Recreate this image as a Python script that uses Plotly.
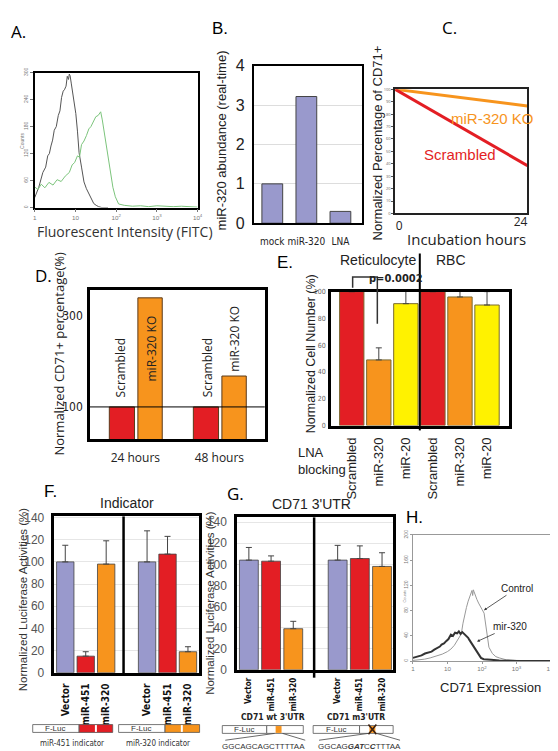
import numpy as np
import plotly.graph_objects as go

W, H = 558, 751

ARIAL = "Liberation Sans, Arial, sans-serif"
NARROW = "Liberation Sans Narrow, DejaVu Sans Condensed, Liberation Sans, sans-serif"
MYRIAD = "Open Sans, Noto Sans, sans-serif"

RED = "#E31E24"
ORANGE = "#F7941D"
YELLOW = "#FFF200"
LAV = "#9999CC"

# ---------------- DATA ----------------
# A: flow cytometry histogram (log10 FITC intensity, counts)
a_gray_log = [0.00, 0.10, 0.20, 0.27, 0.32, 0.36, 0.40, 0.44, 0.48, 0.53, 0.58, 0.62, 0.66, 0.70, 0.73,
              0.77, 0.80, 0.83, 0.85, 0.87, 0.90, 0.93, 0.97, 1.01, 1.05, 1.09, 1.15, 1.21, 1.27, 1.33,
              1.39, 1.45, 1.51, 1.57, 1.65, 1.80]
a_gray_cnt = [22, 45, 78, 90, 115, 120, 137, 150, 172, 180, 205, 215, 245, 259, 262,
              270, 292, 285, 297, 293, 275, 259, 235, 209, 170, 122, 90, 57, 42, 30,
              18, 9, 5, 2, 0, 0]
a_green_log = [0.00, 0.08, 0.16, 0.25, 0.35, 0.45, 0.55, 0.65, 0.75, 0.85, 0.92, 0.98, 1.05, 1.10,
               1.15, 1.21, 1.27, 1.33, 1.38, 1.44, 1.50, 1.56, 1.62, 1.66, 1.70, 1.74, 1.78, 1.82,
               1.86, 1.92, 1.98, 2.06, 2.20, 2.40, 2.60, 2.80, 3.00, 3.20, 3.40, 3.60, 3.80, 4.00]
a_green_cnt = [46, 40, 52, 44, 56, 50, 62, 58, 70, 78, 95, 100, 115, 112,
               140, 148, 160, 175, 180, 192, 202, 205, 213, 195, 172, 150, 122, 100,
               78, 45, 24, 8, 5, 3, 4, 2, 4, 3, 2, 3, 2, 1]

# B: miR-320 abundance (real-time)
b_cats = ["mock", "miR-320", "LNA"]
b_vals = [1.0, 3.22, 0.30]

# C: normalized percentage of CD71+ vs incubation hours
c_hours = [0, 24]
c_ko = [100, 86.5]
c_scr = [100, 38.5]

# D: normalized CD71+ percentage
d_cats = ["24 hours", "48 hours"]
d_scr = [100, 100]
d_ko = [340, 168]

# E: normalized cell number (%)
e_labels = ["Scrambled", "miR-320", "miR-20", "Scrambled", "miR-320", "miR-20"]
e_vals = [100, 49, 91, 100, 96, 90]
e_err = [0, 9, 14, 0, 13, 10]

# F: indicator luciferase activities (%)
f_labels = ["Vector", "miR-451", "miR-320", "Vector", "miR-451", "miR-320"]
f_vals = [100, 15, 98, 100, 107, 19]
f_err = [15, 4, 21, 28, 16, 4.5]

# G: CD71 3'UTR luciferase activities (%)
g_labels = ["Vector", "miR-451", "miR-320", "Vector", "miR-451", "miR-320"]
g_vals = [104, 103, 39, 104, 105.5, 98]
g_err = [12, 5, 7, 14, 12, 13]

# H: CD71 expression histogram (log10 intensity, counts)
h_ctrl_log = [0.0, 0.2, 0.34, 0.5, 0.7, 0.85, 1.0, 1.1, 1.2, 1.3, 1.4, 1.45, 1.5, 1.55, 1.6, 1.64,
              1.68, 1.71, 1.73, 1.75, 1.77, 1.8, 1.85, 1.9, 1.95, 2.0, 2.06, 2.12, 2.2, 2.3, 2.4,
              2.5, 2.7, 3.0, 3.5, 4.0]
h_ctrl_cnt = [1, 2, 3, 5, 8, 11, 15, 19, 25, 33, 43, 60, 75, 85, 95, 102,
              108, 112, 104, 113, 110, 104, 98, 92, 86, 82, 76, 50, 22, 12, 7,
              5, 2, 1, 1, 0]
h_mir_log = [0.0, 0.06, 0.15, 0.25, 0.35, 0.45, 0.54, 0.62, 0.70, 0.78, 0.83, 0.9, 0.97, 1.03,
             1.1, 1.16, 1.22, 1.28, 1.33, 1.38, 1.43, 1.49, 1.55, 1.6, 1.63, 1.7, 1.77, 1.85,
             1.92, 1.97, 2.05, 2.15, 2.26, 2.5, 3.0, 4.0]
h_mir_cnt = [5, 6, 8, 9, 12, 13, 15, 18, 20, 23, 26, 28, 32, 35,
             42, 40, 45, 44, 47, 43, 46, 43, 40, 37, 34, 28, 20, 14,
             9, 5, 3, 2, 2, 1, 0, 0]


# ---------------- helpers ----------------
def xd(p0, p1):
    return [p0 / W, p1 / W]


def yd(top, bot):
    return [1 - bot / H, 1 - top / H]


def PX(x):
    return x / W


def PY(y):
    return 1 - y / H


annotations = []
shapes = []


def T(text, x, y, size=12, family=ARIAL, color="black", angle=0, xanchor="center", yanchor="middle", **kw):
    annotations.append(dict(text=text, x=PX(x), y=PY(y), xref="paper", yref="paper", showarrow=False,
                            font=dict(size=size, family=family, color=color), textangle=angle,
                            xanchor=xanchor, yanchor=yanchor, **kw))


def rect(x0, y0, x1, y1, fill="white", lc="#555", lw=0.8):
    shapes.append(dict(type="rect", xref="paper", yref="paper", x0=PX(x0), x1=PX(x1), y0=PY(y1), y1=PY(y0),
                       fillcolor=fill, line=dict(color=lc, width=lw)))


def line(x0, y0, x1, y1, color="black", width=1):
    shapes.append(dict(type="line", xref="paper", yref="paper", x0=PX(x0), x1=PX(x1), y0=PY(y0), y1=PY(y1),
                       line=dict(color=color, width=width)))


def box_axis(domain, anchor, lw=2, lc="black", **kw):
    d = dict(domain=domain, anchor=anchor, showline=True, mirror=True, linewidth=lw, linecolor=lc,
             showgrid=False, zeroline=False, ticks="")
    d.update(kw)
    return d


fig = go.Figure()

# A
fig.add_trace(go.Scatter(x=np.power(10.0, a_gray_log), y=a_gray_cnt, mode="lines",
                         line=dict(color="#555555", width=1), xaxis="x", yaxis="y"))
fig.add_trace(go.Scatter(x=np.power(10.0, a_green_log), y=a_green_cnt, mode="lines",
                         line=dict(color="#7CC47C", width=1), xaxis="x", yaxis="y"))

# B
fig.add_trace(go.Bar(x=b_cats, y=b_vals, width=0.61, marker=dict(color=LAV, line=dict(color="#444", width=1)),
                     xaxis="x2", yaxis="y2"))

# C (second line on an overlaid twin axis that carries the "24" label)
fig.add_trace(go.Scatter(x=c_hours, y=c_ko, mode="lines", line=dict(color=ORANGE, width=3), xaxis="x3", yaxis="y3"))
fig.add_trace(go.Scatter(x=c_hours, y=c_scr, mode="lines", line=dict(color=RED, width=3), xaxis="x9", yaxis="y3"))

# D
fig.add_trace(go.Bar(x=d_cats, y=d_scr, width=0.3, offset=-0.31,
                     marker=dict(color=RED, line=dict(color="#5a3a1a", width=1)), xaxis="x4", yaxis="y4"))
fig.add_trace(go.Bar(x=d_cats, y=d_ko, width=0.29, offset=0.03,
                     marker=dict(color=ORANGE, line=dict(color="#5a3a1a", width=1)), xaxis="x4", yaxis="y4"))

# E
e_pos = list(range(len(e_vals)))
fig.add_trace(go.Bar(x=e_pos, y=e_vals, width=0.9,
                     marker=dict(color=[RED, ORANGE, YELLOW] * 2, line=dict(color="#7a6a30", width=1)),
                     error_y=dict(type="data", array=e_err, arrayminus=[0] * 6, symmetric=False,
                                  color="#444", thickness=1, width=3),
                     cliponaxis=False, xaxis="x5", yaxis="y5"))

# F
f_pos = [i + i // 3 for i in range(6)]
fig.add_trace(go.Bar(x=f_pos, y=f_vals, width=0.85,
                     marker=dict(color=[LAV, RED, ORANGE] * 2, line=dict(color="#444", width=0.8)),
                     error_y=dict(type="data", array=f_err, arrayminus=[0] * 6, symmetric=False,
                                  color="#444", thickness=1, width=3),
                     cliponaxis=False, xaxis="x6", yaxis="y6"))

# G
g_pos = [i + i // 3 for i in range(6)]
fig.add_trace(go.Bar(x=g_pos, y=g_vals, width=0.85,
                     marker=dict(color=[LAV, RED, ORANGE] * 2, line=dict(color="#444", width=0.8)),
                     error_y=dict(type="data", array=g_err, arrayminus=[0] * 6, symmetric=False,
                                  color="#444", thickness=1, width=3),
                     cliponaxis=False, xaxis="x7", yaxis="y7"))

# H
fig.add_trace(go.Scatter(x=np.power(10.0, h_ctrl_log), y=h_ctrl_cnt, mode="lines",
                         line=dict(color="#999999", width=1), xaxis="x8", yaxis="y8"))
fig.add_trace(go.Scatter(x=np.power(10.0, h_mir_log), y=h_mir_cnt, mode="lines",
                         line=dict(color="#333333", width=2), xaxis="x8", yaxis="y8"))

tiny = dict(size=5, family=ARIAL, color="#777")

layout = dict(
    width=W, height=H, autosize=False, margin=dict(l=0, r=0, t=0, b=0),
    paper_bgcolor="white", plot_bgcolor="white", showlegend=False, barmode="overlay",
    # A
    xaxis=box_axis(xd(25, 190), "y", lw=1.5, type="log", range=[0, 4], dtick=1, exponentformat="power",
                   ticks="outside", ticklen=3, tickcolor="#777", tickfont=tiny),
    yaxis=box_axis(yd(58, 196), "x", lw=1.5, range=[0, 300], dtick=60, tickangle=-90,
                   ticks="outside", ticklen=3, tickcolor="#777", tickfont=tiny),
    # B
    xaxis2=box_axis(xd(247, 356), "y2", lw=2, range=[-0.54, 2.62], tickangle=0,
                    tickfont=dict(size=10, family=NARROW, color="#222"), ticklabelstandoff=8),
    yaxis2=box_axis(yd(51, 212), "x2", lw=2, range=[0, 4], dtick=1, showgrid=True, gridcolor="#dddddd",
                    tickfont=dict(size=16, family=ARIAL, color="#222"), ticklabelstandoff=4),
    # C
    xaxis3=box_axis(xd(390, 524), "y3", lw=1.5, lc="#222", range=[0, 24], tickvals=[0],
                    ticklabelposition="outside right",
                    tickfont=dict(size=12, family=MYRIAD, color="#222")),
    xaxis9=dict(overlaying="x3", anchor="y3", range=[0, 24], tickvals=[24], ticklabelposition="outside left",
                showline=False, showgrid=False, zeroline=False, ticks="",
                tickfont=dict(size=12, family=MYRIAD, color="#222")),
    yaxis3=box_axis(yd(75, 202), "x3", lw=1.5, lc="#222", range=[0, 100], dtick=10,
                    ticks="outside", ticklen=2, tickcolor="#555", tickfont=dict(size=4, color="#666")),
    # D
    xaxis4=box_axis(xd(81, 258), "y4", lw=2.5, range=[-0.54, 1.54],
                    tickfont=dict(size=12, family=MYRIAD, color="#222"), ticklabelstandoff=6),
    yaxis4=box_axis(yd(280, 433), "x4", lw=2.5, range=[29, 358], tickvals=[100, 300],
                    tickfont=dict(size=12, family=NARROW, color="#222"), ticklabelstandoff=2),
    # E
    xaxis5=box_axis(xd(325, 505), "y5", lw=2.5, range=[-0.77, 5.8], tickvals=e_pos, ticktext=e_labels,
                    tickangle=-90, tickfont=dict(size=13, family=ARIAL, color="#222"), ticklabelstandoff=4),
    yaxis5=box_axis(yd(282, 419), "x5", lw=2.5, range=[0, 100], dtick=20,
                    tickfont=dict(size=7, family=NARROW, color="#666"), ticklabelstandoff=1),
    # F
    xaxis6=box_axis(xd(45, 191), "y6", lw=2.5, range=[-0.53, 6.52], tickvals=f_pos,
                    ticktext=["<b>%s</b>" % s for s in f_labels], tickangle=-90,
                    tickfont=dict(size=10, family=NARROW, color="#111"), ticklabelstandoff=4),
    yaxis6=box_axis(yd(512, 672), "x6", lw=2.5, range=[0, 141], dtick=20, showgrid=True, gridcolor="#e6e6e6",
                    tickfont=dict(size=12, family=ARIAL, color="#555"), ticklabelstandoff=5),
    # G
    xaxis7=box_axis(xd(230, 388), "y7", lw=2.5, range=[-0.53, 6.5], tickvals=g_pos,
                    ticktext=["<b>%s</b>" % s for s in g_labels], tickangle=-90,
                    tickfont=dict(size=8, family=NARROW, color="#111"), ticklabelstandoff=2),
    yaxis7=box_axis(yd(513, 669), "x7", lw=2.5, range=[0, 144.5], dtick=20, showgrid=True, gridcolor="#e6e6e6",
                    tickfont=dict(size=12, family=ARIAL, color="#555"), ticklabelstandoff=5),
    # H
    xaxis8=box_axis(xd(408, 548), "y8", lw=1, lc="#999", type="log", range=[0, 4], dtick=1,
                    exponentformat="power", ticks="outside", ticklen=2, tickcolor="#999", tickfont=tiny),
    yaxis8=box_axis(yd(531, 660), "x8", lw=1, lc="#999", range=[0, 200], dtick=40, tickangle=-90,
                    ticks="outside", ticklen=2, tickcolor="#999", tickfont=tiny),
)

# ---------------- shapes ----------------
shapes.append(dict(type="line", xref="x4 domain", yref="y4", x0=0, x1=1, y0=100, y1=100,
                   line=dict(color="black", width=1)))
line(415, 243, 415, 424, width=2)
shapes.append(dict(type="path", xref="paper", yref="paper",
                   path="M %f %f L %f %f L %f %f L %f %f" % (PX(347), PY(278), PX(347), PY(267),
                                                             PX(372), PY(267), PX(372), PY(315)),
                   line=dict(color="#333", width=1.5)))
line(115, 512, 115, 673, width=2.5)
line(308, 513, 308, 677, width=2.5)

# F constructs
rect(23, 725, 70, 733)
rect(70, 725, 104, 733, fill=RED)
line(87, 725.5, 87, 732.5, color="white", width=2)
rect(110, 725, 157, 733)
rect(157, 725, 192, 733, fill=ORANGE)
line(174, 725.5, 174, 732.5, color="white", width=2)

# G constructs
rect(215, 726, 260, 734)
rect(260, 726, 297, 734)
rect(269, 726.5, 275, 733.5, fill=ORANGE, lc=ORANGE, lw=0)
line(268, 734, 218, 741, color="#444", width=0.8)
line(276, 734, 299, 741, color="#444", width=0.8)
rect(307, 726, 354, 734)
rect(354, 726, 388, 734)
rect(364, 726.5, 370, 733.5, fill=ORANGE, lc=ORANGE, lw=0)
line(363, 725, 371, 735, color="#3a2010", width=1.6)
line(371, 725, 363, 735, color="#3a2010", width=1.6)
line(363, 734, 313, 741, color="#444", width=0.8)
line(371, 734, 395, 741, color="#444", width=0.8)

# ---------------- text ----------------
T("A.", 9, 16, 17, MYRIAD)
T("B.", 213, 13, 17, ARIAL)
T("C.", 445, 12, 17, MYRIAD)
T("D.", 34, 265, 17, MYRIAD)
T("E.", 278, 252, 17, ARIAL)
T("F.", 41, 487, 17, ARIAL)
T("G.", 228, 489, 17, MYRIAD)
T("H.", 410, 513, 17, ARIAL)

T("Fluorescent Intensity (FITC)", 116, 221, 14, MYRIAD, "#333")
T("Counts", 12, 128, 5, ARIAL, "#777", angle=-90)
T("miR-320 abundance (real-time)", 214, 127, 13, ARIAL, "#222", angle=-90)
T("Normalized Percentage of CD71+", 372, 130, 13, ARIAL, "#222", angle=-90)
T("Incubation hours", 462, 228, 15, MYRIAD, "#222")
T("miR-320 KO", 489, 105, 15, ARIAL, ORANGE)
T("Scrambled", 456, 142, 15, ARIAL, RED)
T("Normalized CD71+ percentage(%)", 50, 345, 13, MYRIAD, "#222", angle=-90)
T("Scrambled", 112, 360, 12, MYRIAD, "#222", angle=-90)
T("miR-320 KO", 143, 340, 12, MYRIAD, "#222", angle=-90)
T("Scrambled", 200, 360, 12, MYRIAD, "#222", angle=-90)
T("miR-320 KO", 227, 330, 12, MYRIAD, "#222", angle=-90)
T("Reticulocyte", 373, 250, 14, ARIAL, "#222")
T("RBC", 447, 250, 14, ARIAL, "#222")
T("<b>p=0.0002</b>", 391, 269, 11, NARROW, "#222")
T("LNA<br>blocking", 290, 455, 13, ARIAL, "#222", xanchor="left", align="left")
T("Normalized Cell Number (%)", 305, 346, 12.5, ARIAL, "#222", angle=-90)
T("Indicator", 118, 498, 14, ARIAL, "#222")
T("Normalized Luciferase Activities (%)", 14, 597, 11.5, ARIAL, "#333", angle=-90)
T("F-Luc", 46, 729, 8, ARIAL, "#333")
T("F-Luc", 133, 729, 8, ARIAL, "#333")
T("miR-451 indicator", 63, 744, 8, NARROW, "#333")
T("miR-320 indicator", 150, 744, 8, NARROW, "#333")
T("CD71 3'UTR", 305, 499, 14, ARIAL, "#222")
T("Normalized Luciferase Activities (%)", 203, 600, 11.5, ARIAL, "#333", angle=-90)
T("<b>CD71 wt 3'UTR</b>", 266, 717, 8.5, NARROW, "#222")
T("<b>CD71 m3'UTR</b>", 350, 717, 8.5, NARROW, "#222")
T("F-Luc", 237, 730, 8, ARIAL, "#333")
T("F-Luc", 330, 730, 8, ARIAL, "#333")
T("GGCAGCAGCTTTTAA", 257, 747, 8, ARIAL, "#333")
T("GGCAG<b><i>GA</i></b><b><i>T</i></b>C<b><i>C</i></b>TTTAA", 354, 747, 8, ARIAL, "#333")
T("Counts", 400, 593, 4, ARIAL, "#888", angle=-90)
T("CD71 Expression", 487, 687, 13, ARIAL, "#222")
annotations.append(dict(text="Control", x=PX(480), y=PY(608), xref="paper", yref="paper", showarrow=True,
                        ax=33, ay=-22, arrowhead=2, arrowsize=0.7, arrowwidth=0.8, arrowcolor="#333",
                        font=dict(size=10, family=ARIAL, color="#222")))
annotations.append(dict(text="mir-320", x=PX(473), y=PY(640), xref="paper", yref="paper", showarrow=True,
                        ax=33, ay=-15, arrowhead=2, arrowsize=0.7, arrowwidth=0.8, arrowcolor="#333",
                        font=dict(size=10, family=ARIAL, color="#222")))

layout["annotations"] = annotations
layout["shapes"] = shapes
fig.update_layout(**layout)

fig.write_html("out.html")
